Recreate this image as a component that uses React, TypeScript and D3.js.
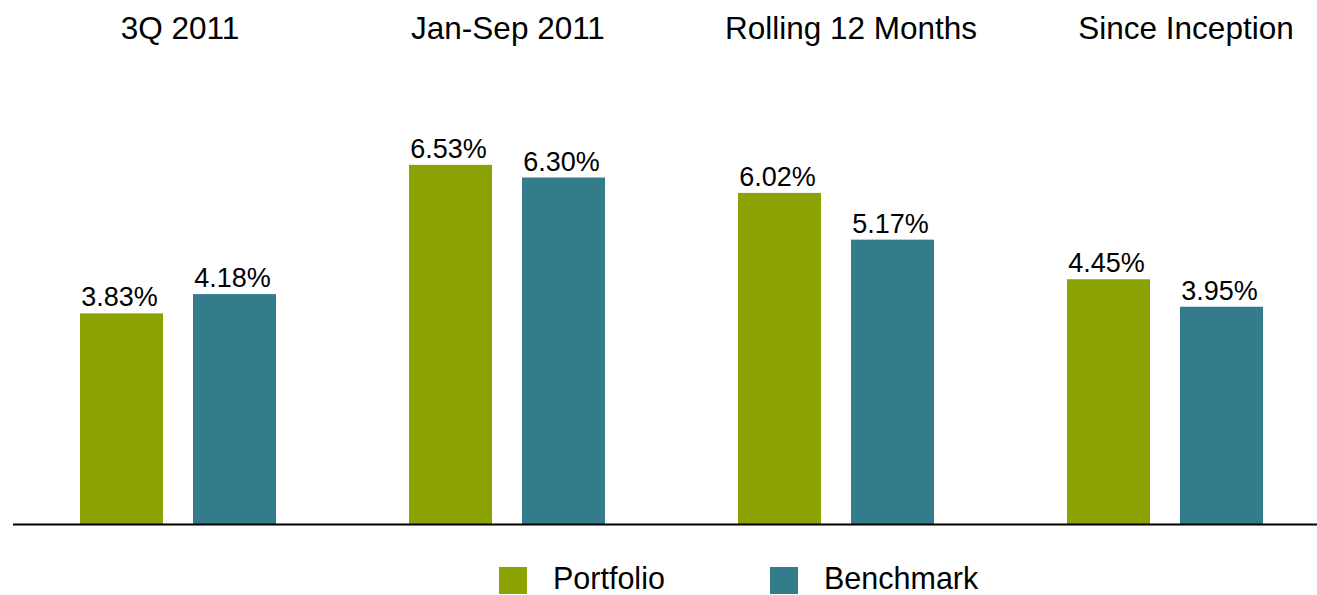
import React from "react";
import * as d3 from "d3";

const categories = ["3Q 2011", "Jan-Sep 2011", "Rolling 12 Months", "Since Inception"];
const seriesNames = ["Portfolio", "Benchmark"];
const portfolio = [3.83, 6.53, 6.02, 4.45];
const benchmark = [4.18, 6.3, 5.17, 3.95];
const colors = ["#8ca103", "#347b8b"];
const titleShift = [2, 1, 15, 21];

const W = 1317;
const H = 595;
const BASE = 524;
const FONT = "'Liberation Sans', Arial, sans-serif";

export default function App() {
  const x0 = d3
    .scaleBand<string>()
    .domain(categories)
    .range([13.5, 1329.5])
    .paddingInner(133 / 329)
    .paddingOuter(133 / 329 / 2);
  const x1 = d3
    .scaleBand<string>()
    .domain(seriesNames)
    .range([0, x0.bandwidth()])
    .paddingInner(30 / 113)
    .paddingOuter(0);
  const y = d3.scaleLinear().domain([0, 7]).range([BASE, BASE - 385]);
  const series = [portfolio, benchmark];

  return (
    <div style={{ position: "fixed", left: 0, top: 0 }}>
      <svg width={W} height={H} style={{ display: "block" }} fontFamily={FONT}>
        <rect width={W} height={H} fill="#fff" />
        {categories.map((c, i) => (
          <text
            key={c}
            x={(x0(c) as number) + x0.bandwidth() / 2 + titleShift[i]}
            y={39}
            textAnchor="middle"
            fontSize={31.5}
            fill="#000"
          >
            {c}
          </text>
        ))}
        {categories.map((c, i) =>
          seriesNames.map((s, j) => {
            const v = series[j][i];
            const bx = (x0(c) as number) + (x1(s) as number);
            return (
              <g key={c + s}>
                <rect x={bx} y={y(v)} width={x1.bandwidth()} height={BASE - y(v)} fill={colors[j]} />
                <text
                  x={bx + x1.bandwidth() / 2 - 2}
                  y={y(v) - 7}
                  textAnchor="middle"
                  fontSize={27}
                  fill="#000"
                >
                  {v.toFixed(2)}%
                </text>
              </g>
            );
          })
        )}
        <line x1={13} x2={W} y1={BASE + 0.5} y2={BASE + 0.5} stroke="#000" strokeWidth={2} />
        {seriesNames.map((s, j) => (
          <g key={s} transform={`translate(${499 + j * 271},567)`}>
            <rect width={28} height={27} fill={colors[j]} />
            <text x={54} y={21.5} fontSize={30.5} fill="#000">
              {s}
            </text>
          </g>
        ))}
      </svg>
    </div>
  );
}
